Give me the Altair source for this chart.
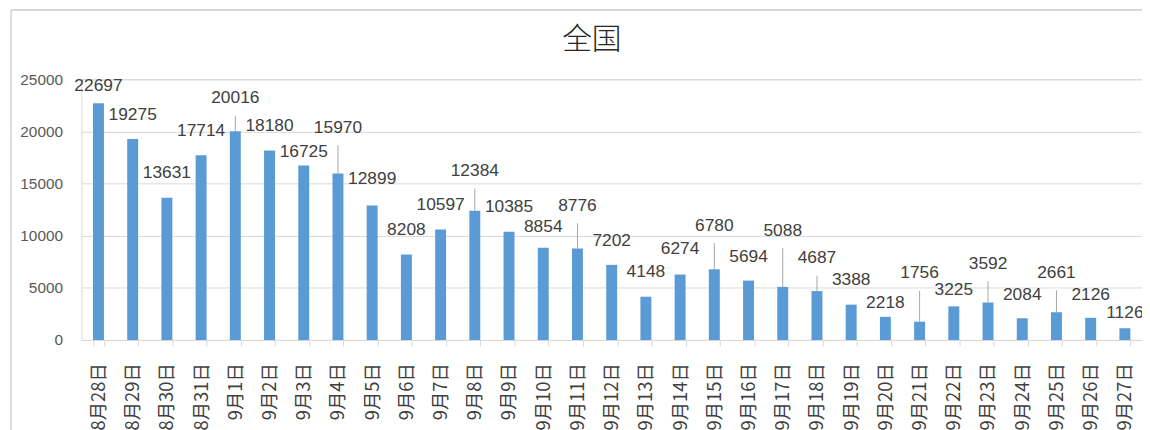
import altair as alt
import pandas as pd

# ---- data ----
title_text = ["全国"]
dates = ["8月28日", "8月29日", "8月30日", "8月31日", "9月1日", "9月2日", "9月3日", "9月4日",
         "9月5日", "9月6日", "9月7日", "9月8日", "9月9日", "9月10日", "9月11日", "9月12日",
         "9月13日", "9月14日", "9月15日", "9月16日", "9月17日", "9月18日", "9月19日", "9月20日",
         "9月21日", "9月22日", "9月23日", "9月24日", "9月25日", "9月26日", "9月27日"]
values = [22697, 19275, 13631, 17714, 20016, 18180, 16725, 15970, 12899, 8208, 10597,
          12384, 10385, 8854, 8776, 7202, 4148, 6274, 6780, 5694, 5088, 4687, 3388,
          2218, 1756, 3225, 3592, 2084, 2661, 2126, 1126]
y_ticks = [0, 5000, 10000, 15000, 20000, 25000]

# ---- layout: pixel lift of each data label above its bar (label placement) ----
label_lift = [17, 24.6, 25, 24, 33, 25, 13.5, 46, 26.6, 25, 24.7, 40, 25, 20.5, 43, 24.5,
              24.5, 25.6, 44, 24, 56.6, 33, 25, 14, 48.6, 16, 39, 23, 39.6, 22.7, 15]

W, H = 1070, 263
Y_MAX = 25000
PX = H / Y_MAX

df = pd.DataFrame({"date": dates, "value": values, "lift": label_lift})

base = alt.Chart(df)

x_enc = alt.X(
    "date:N", sort=dates,
    scale=alt.Scale(paddingInner=0.68, paddingOuter=0.34),
    axis=alt.Axis(title=None, labelAngle=270, labelFont="Noto Sans CJK SC",
                  labelFontSize=18.5, labelColor="#404040", tickBand="extent",
                  tickSize=6, tickColor="#d9d9d9", domainColor="#d9d9d9",
                  labelPadding=17, labelOverlap=False, labelLimit=200),
)
y_enc = alt.Y(
    "value:Q",
    scale=alt.Scale(domain=[0, Y_MAX], nice=False),
    axis=alt.Axis(title=None, values=y_ticks, format="d", ticks=False, domain=False,
                  gridColor="#d9d9d9", labelFont="Liberation Sans", labelFontSize=15.5,
                  labelColor="#595959", labelPadding=19),
)

bars = base.mark_bar(color="#5B9BD5").encode(x=x_enc, y=y_enc)

labels = base.transform_calculate(
    ly=f"datum.value + datum.lift / {PX}"
).mark_text(font="Liberation Sans", fontSize=17.5, color="#404040", baseline="middle").encode(
    x=alt.X("date:N", sort=dates),
    y=alt.Y("ly:Q"),
    text=alt.Text("value:Q", format="d"),
)

leaders = base.transform_filter("datum.lift > 30").transform_calculate(
    top=f"datum.value + (datum.lift - 17.5) / {PX}"
).mark_rule(color="#a6a6a6", strokeWidth=1).encode(
    x=alt.X("date:N", sort=dates),
    y=alt.Y("value:Q"),
    y2="top:Q",
)

# chart-area frame (decoration)
frame_left = alt.Chart(df).mark_rule(color="#d9d9d9", strokeWidth=1).encode(
    x=alt.value(-70.5), y=alt.value(-70), y2=alt.value(500)
)
frame_top = alt.Chart(df).mark_rule(color="#d9d9d9", strokeWidth=1).encode(
    x=alt.value(-71), x2=alt.value(1300), y=alt.value(-69.5)
)

title = alt.Chart(pd.DataFrame({"t": title_text})).mark_text(
    font="Noto Sans CJK SC", fontSize=30, fontWeight=300, color="#262626",
    baseline="middle", align="center"
).encode(text="t:N", x=alt.value(515), y=alt.value(-40))

chart = alt.layer(frame_left, frame_top, bars, leaders, labels, title).properties(
    width=W, height=H,
    autosize=alt.AutoSizeParams(type="none"),
    padding={"left": 74, "top": 70, "right": 0, "bottom": 100},
).configure_view(stroke=None).configure(background="white")

chart.save("out.html", embed_options={"renderer": "svg", "actions": False})
